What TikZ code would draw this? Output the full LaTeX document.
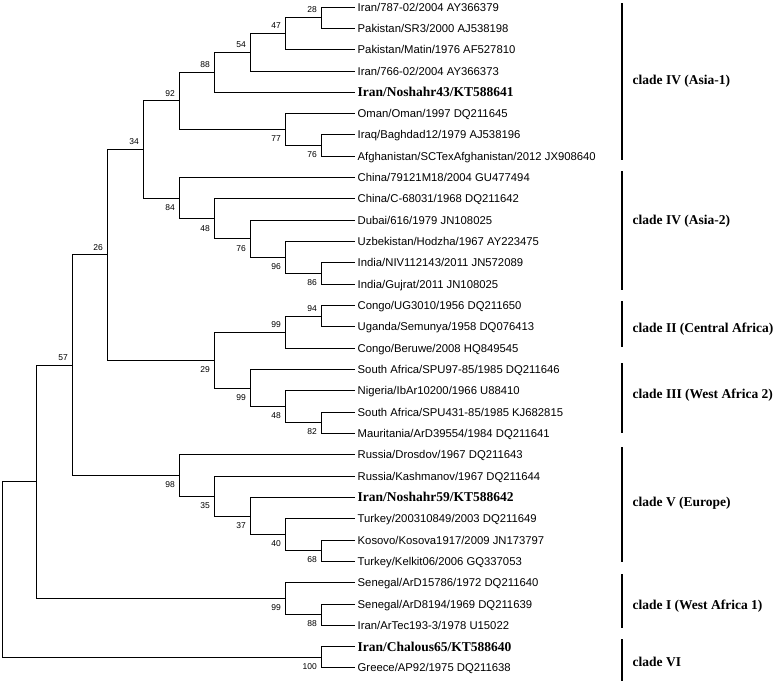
\documentclass[tikz,border=0pt]{standalone}
\usepackage{fontspec}
\usepackage{tikz}
\usetikzlibrary{positioning}
\newfontfamily\arialfont{Liberation Sans}
\newfontfamily\timesfont{Liberation Serif}

\begin{document}
\begin{tikzpicture}[x=1pt, y=-1pt,
    branch/.style={draw=black, line width=0.9pt},
    leaf/.style={anchor=west, inner sep=2.5pt, text height=8.1pt, text depth=0pt, font=\arialfont\fontsize{11.3}{13}\selectfont},
    newleaf/.style={leaf, text height=8.9pt, font=\timesfont\bfseries\fontsize{13.5}{15}\selectfont},
    boot/.style={inner sep=0pt, font=\arialfont\fontsize{8.5}{10}\selectfont},
    cladebar/.style={draw=black, line width=1.3pt},
    clade/.style={anchor=west, inner sep=0pt, text height=8.9pt, text depth=0pt, font=\timesfont\bfseries\fontsize{13.5}{15}\selectfont}]

\useasboundingbox (0,0) rectangle (775,681);

\node [leaf] (iran787) at (355,7.00) {Iran/787-02/2004 AY366379};
\node [leaf] (pakSR3) at (355,28.32) {Pakistan/SR3/2000 AJ538198};
\node [leaf] (pakMatin) at (355,49.64) {Pakistan/Matin/1976 AF527810};
\node [leaf] (iran766) at (355,70.96) {Iran/766-02/2004 AY366373};
\node [newleaf] (noshahr43) at (355,92.28) {Iran/Noshahr43/KT588641};
\node [leaf] (oman) at (355,113.60) {Oman/Oman/1997 DQ211645};
\node [leaf] (iraq) at (355,134.92) {Iraq/Baghdad12/1979 AJ538196};
\node [leaf] (afgh) at (355,156.24) {Afghanistan/SCTexAfghanistan/2012 JX908640};
\node [leaf] (china79) at (355,177.56) {China/79121M18/2004 GU477494};
\node [leaf] (chinaC) at (355,198.88) {China/C-68031/1968 DQ211642};
\node [leaf] (dubai) at (355,220.20) {Dubai/616/1979 JN108025};
\node [leaf] (uzbek) at (355,241.52) {Uzbekistan/Hodzha/1967 AY223475};
\node [leaf] (indiaNIV) at (355,262.84) {India/NIV112143/2011 JN572089};
\node [leaf] (indiaGuj) at (355,284.16) {India/Gujrat/2011 JN108025};
\node [leaf] (congoUG) at (355,305.48) {Congo/UG3010/1956 DQ211650};
\node [leaf] (uganda) at (355,326.80) {Uganda/Semunya/1958 DQ076413};
\node [leaf] (congoBer) at (355,348.12) {Congo/Beruwe/2008 HQ849545};
\node [leaf] (safr97) at (355,369.44) {South Africa/SPU97-85/1985 DQ211646};
\node [leaf] (nigeria) at (355,390.76) {Nigeria/IbAr10200/1966 U88410};
\node [leaf] (safr431) at (355,412.08) {South Africa/SPU431-85/1985 KJ682815};
\node [leaf] (mauri) at (355,433.40) {Mauritania/ArD39554/1984 DQ211641};
\node [leaf] (drosdov) at (355,454.72) {Russia/Drosdov/1967 DQ211643};
\node [leaf] (kashmanov) at (355,476.04) {Russia/Kashmanov/1967 DQ211644};
\node [newleaf] (noshahr59) at (355,497.36) {Iran/Noshahr59/KT588642};
\node [leaf] (turkey03) at (355,518.68) {Turkey/200310849/2003 DQ211649};
\node [leaf] (kosovo) at (355,540.00) {Kosovo/Kosova1917/2009 JN173797};
\node [leaf] (kelkit) at (355,561.32) {Turkey/Kelkit06/2006 GQ337053};
\node [leaf] (seneg15786) at (355,582.64) {Senegal/ArD15786/1972 DQ211640};
\node [leaf] (seneg8194) at (355,603.96) {Senegal/ArD8194/1969 DQ211639};
\node [leaf] (artec) at (355,625.28) {Iran/ArTec193-3/1978 U15022};
\node [newleaf] (chalous) at (355,646.60) {Iran/Chalous65/KT588640};
\node [leaf] (greece) at (355,667.92) {Greece/AP92/1975 DQ211638};

\coordinate (n28) at (321,17.66);
\coordinate (n47) at (285,33.65);
\coordinate (n54) at (250,52.30);
\coordinate (n88a) at (214,72.29);
\coordinate (n76a) at (321,145.58);
\coordinate (n77) at (285,129.59);
\coordinate (n92) at (179,100.94);
\coordinate (n86) at (321,273.50);
\coordinate (n96) at (285,257.51);
\coordinate (n76b) at (250,238.86);
\coordinate (n48a) at (214,218.87);
\coordinate (n84) at (179,198.22);
\coordinate (n34) at (143,149.58);
\coordinate (n94) at (321,316.14);
\coordinate (n99c) at (285,332.13);
\coordinate (n82) at (321,422.74);
\coordinate (n48b) at (285,406.75);
\coordinate (n99b) at (250,388.10);
\coordinate (n29) at (214,360.12);
\coordinate (n26) at (107,254.85);
\coordinate (n68) at (321,550.66);
\coordinate (n40) at (285,534.67);
\coordinate (n37) at (250,516.02);
\coordinate (n35) at (214,496.03);
\coordinate (n98) at (179,475.38);
\coordinate (n57) at (72,365.12);
\coordinate (n88b) at (321,614.62);
\coordinate (n99a) at (285,598.63);
\coordinate (nx) at (36.7,481.88);
\coordinate (n100) at (321,657.26);
\coordinate (root) at (2,569.57);

\draw [branch] (n28) |- (iran787.west);
\draw [branch] (n28) |- (pakSR3.west);
\draw [branch] (n47) |- (n28);
\draw [branch] (n47) |- (pakMatin.west);
\draw [branch] (n54) |- (n47);
\draw [branch] (n54) |- (iran766.west);
\draw [branch] (n88a) |- (n54);
\draw [branch] (n88a) |- (noshahr43.west);
\draw [branch] (n76a) |- (iraq.west);
\draw [branch] (n76a) |- (afgh.west);
\draw [branch] (n77) |- (oman.west);
\draw [branch] (n77) |- (n76a);
\draw [branch] (n92) |- (n88a);
\draw [branch] (n92) |- (n77);
\draw [branch] (n86) |- (indiaNIV.west);
\draw [branch] (n86) |- (indiaGuj.west);
\draw [branch] (n96) |- (uzbek.west);
\draw [branch] (n96) |- (n86);
\draw [branch] (n76b) |- (dubai.west);
\draw [branch] (n76b) |- (n96);
\draw [branch] (n48a) |- (chinaC.west);
\draw [branch] (n48a) |- (n76b);
\draw [branch] (n84) |- (china79.west);
\draw [branch] (n84) |- (n48a);
\draw [branch] (n34) |- (n92);
\draw [branch] (n34) |- (n84);
\draw [branch] (n94) |- (congoUG.west);
\draw [branch] (n94) |- (uganda.west);
\draw [branch] (n99c) |- (n94);
\draw [branch] (n99c) |- (congoBer.west);
\draw [branch] (n82) |- (safr431.west);
\draw [branch] (n82) |- (mauri.west);
\draw [branch] (n48b) |- (nigeria.west);
\draw [branch] (n48b) |- (n82);
\draw [branch] (n99b) |- (safr97.west);
\draw [branch] (n99b) |- (n48b);
\draw [branch] (n29) |- (n99c);
\draw [branch] (n29) |- (n99b);
\draw [branch] (n26) |- (n34);
\draw [branch] (n26) |- (n29);
\draw [branch] (n68) |- (kosovo.west);
\draw [branch] (n68) |- (kelkit.west);
\draw [branch] (n40) |- (turkey03.west);
\draw [branch] (n40) |- (n68);
\draw [branch] (n37) |- (noshahr59.west);
\draw [branch] (n37) |- (n40);
\draw [branch] (n35) |- (kashmanov.west);
\draw [branch] (n35) |- (n37);
\draw [branch] (n98) |- (drosdov.west);
\draw [branch] (n98) |- (n35);
\draw [branch] (n57) |- (n26);
\draw [branch] (n57) |- (n98);
\draw [branch] (n88b) |- (seneg8194.west);
\draw [branch] (n88b) |- (artec.west);
\draw [branch] (n99a) |- (seneg15786.west);
\draw [branch] (n99a) |- (n88b);
\draw [branch] (nx) |- (n57);
\draw [branch] (nx) |- (n99a);
\draw [branch] (n100) |- (chalous.west);
\draw [branch] (n100) |- (greece.west);
\draw [branch] (root) |- (nx);
\draw [branch] (root) |- (n100);

\node [boot, above left=4.5pt and 4pt of n28] (s28) {28};
\node [boot, above left=4.5pt and 4pt of n47] (s47) {47};
\node [boot, above left=4.5pt and 4pt of n54] (s54) {54};
\node [boot, above left=4.5pt and 4pt of n88a] (s88a) {88};
\node [boot, above left=4.5pt and 4pt of n92] (s92) {92};
\node [boot, above left=4.5pt and 4pt of n34] (s34) {34};
\node [boot, above left=4.5pt and 4pt of n26] (s26) {26};
\node [boot, above left=4.5pt and 4pt of n94] (s94) {94};
\node [boot, above left=4.5pt and 4pt of n99c] (s99c) {99};
\node [boot, above left=4.5pt and 4pt of n57] (s57) {57};
\node [boot, below left=6pt and 4pt of n77] (s77) {77};
\node [boot, below left=6pt and 4pt of n76a] (s76a) {76};
\node [boot, below left=6pt and 4pt of n84] (s84) {84};
\node [boot, below left=6pt and 4pt of n48a] (s48a) {48};
\node [boot, below left=6pt and 4pt of n76b] (s76b) {76};
\node [boot, below left=6pt and 4pt of n96] (s96) {96};
\node [boot, below left=6pt and 4pt of n86] (s86) {86};
\node [boot, below left=6pt and 4pt of n29] (s29) {29};
\node [boot, below left=6pt and 4pt of n99b] (s99b) {99};
\node [boot, below left=6pt and 4pt of n48b] (s48b) {48};
\node [boot, below left=6pt and 4pt of n82] (s82) {82};
\node [boot, below left=6pt and 4pt of n98] (s98) {98};
\node [boot, below left=6pt and 4pt of n35] (s35) {35};
\node [boot, below left=6pt and 4pt of n37] (s37) {37};
\node [boot, below left=6pt and 4pt of n40] (s40) {40};
\node [boot, below left=6pt and 4pt of n68] (s68) {68};
\node [boot, below left=6pt and 4pt of n99a] (s99a) {99};
\node [boot, below left=6pt and 4pt of n88b] (s88b) {88};
\node [boot, below left=6pt and 4pt of n100] (s100) {100};

\draw [cladebar] (622,3) -- (622,160);
\draw [cladebar] (622,171) -- (622,290);
\draw [cladebar] (622,301) -- (622,347);
\draw [cladebar] (622,363) -- (622,433);
\draw [cladebar] (622,447) -- (622,562);
\draw [cladebar] (622,574) -- (622,628);
\draw [cladebar] (622,639) -- (622,681);

\node [clade] (asia1) at (632.5,80) {clade IV (Asia-1)};
\node [clade] (asia2) at (632.5,220.5) {clade IV (Asia-2)};
\node [clade] (centralafrica) at (632.5,328) {clade II (Central Africa)};
\node [clade] (westafrica2) at (632.5,394) {clade III (West Africa 2)};
\node [clade] (europe) at (632.5,502) {clade V (Europe)};
\node [clade] (westafrica1) at (632.5,605) {clade I (West Africa 1)};
\node [clade] (cladesix) at (632.5,662) {clade VI};

\end{tikzpicture}
\end{document}
